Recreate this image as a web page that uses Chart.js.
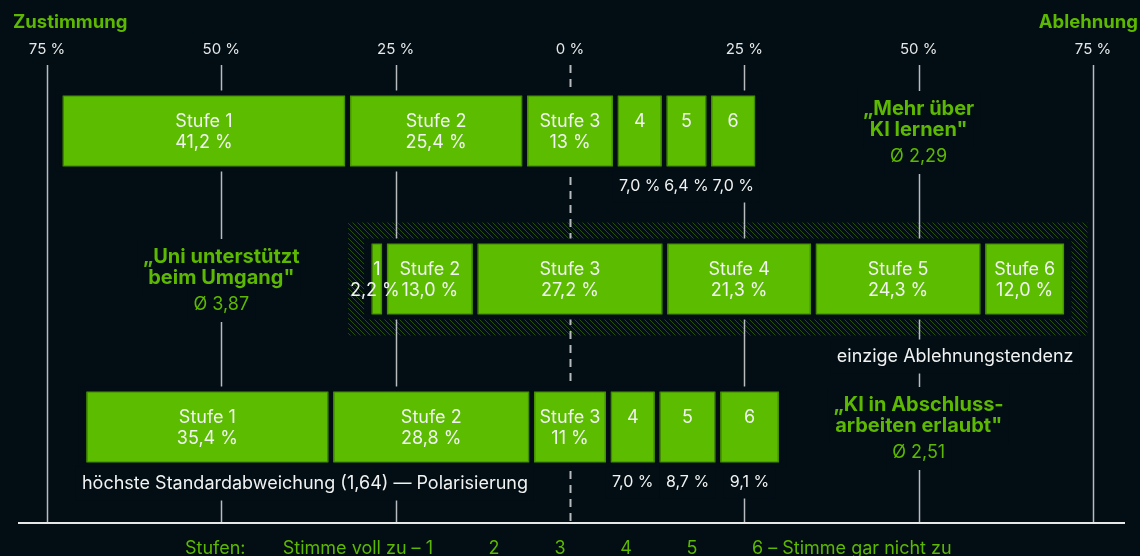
<!DOCTYPE html>
<html lang="de">
<head>
<meta charset="utf-8">
<title>KI im Studium – Zustimmung und Ablehnung</title>
<script src="https://cdn.jsdelivr.net/npm/chart.js@4.4.1/dist/chart.umd.min.js"></script>
<style>
  html, body { margin: 0; padding: 0; background: #020d14; }
  #wrap { width: 1140px; height: 556px; }
</style>
</head>
<body>
<div id="wrap"><canvas id="chart" width="1140" height="556"></canvas></div>
<script>
// Fragen (zweizeilig), Mittelwerte und Anteile je Stufe
const questions = [
    ['„Mehr über', 'KI lernen"'],
    ['„Uni unterstützt', 'beim Umgang"'],
    ['„KI in Abschluss-', 'arbeiten erlaubt"']
];
const means = ['2,29', '3,87', '2,51'];

// 1 = Stimme voll zu ... 6 = Stimme gar nicht zu (Prozent je Frage)
const stufe1 = ['41,2', '2,2', '35,4'];
const stufe2 = ['25,4', '13,0', '28,8'];
const stufe3 = ['13', '27,2', '11'];
const stufe4 = ['7,0', '21,3', '7,0'];
const stufe5 = ['6,4', '24,3', '8,7'];
const stufe6 = ['7,0', '12,0', '9,1'];

const tickValues = [-75, -50, -25, 0, 25, 50, 75];
const notes = ['', 'einzige Ablehnungstendenz', 'höchste Standardabweichung (1,64) — Polarisierung'];
const legendSteps = ['Stimme voll zu – 1', '2', '3', '4', '5', '6 – Stimme gar nicht zu'];

const BG = '#020d14';
const GREEN = '#5cbc00';
const GREEN_TEXT = '#5cb800';
const WHITE = '#f1f3f2';
const LINE = '#b8bcbf';
const FONT = 'Inter, "Noto Sans", sans-serif';
const BAR_H = 71;
const GAP = 2.75;

const toNum = s => parseFloat(s.replace(',', '.'));
const stages = [stufe1, stufe2, stufe3, stufe4, stufe5, stufe6];

// Stufe 3 liegt mittig auf der Nulllinie, 1–2 links davon, 4–6 rechts
const ranges = questions.map((q, r) => {
    const v = stages.map(s => toNum(s[r]));
    let pos = -(v[0] + v[1] + v[2] / 2);
    return v.map(val => {
        const seg = [pos, pos + val];
        pos += val;
        return seg;
    });
});

// Zeile mit Mittelwert über 3,5 = Ablehnungstendenz, wird schraffiert
const highlight = means.map(m => toNum(m) > 3.5);

function barBox(chart, r) {
    const x = chart.scales.x, y = chart.scales.y;
    const seg = ranges[r];
    const cy = y.getPixelForValue(r);
    return {
        left: x.getPixelForValue(seg[0][0]),
        right: x.getPixelForValue(seg[seg.length - 1][1]),
        top: cy - BAR_H / 2,
        bottom: cy + BAR_H / 2,
        cy: cy
    };
}

function textItems(chart) {
    const x = chart.scales.x;
    const items = [];
    const bold = 'bold 20px ' + FONT;
    const reg = '18px ' + FONT;
    const small = '16px ' + FONT;

    questions.forEach((lines, r) => {
        const b = barBox(chart, r);
        const qx = x.getPixelForValue(highlight[r] ? -50 : 50);
        items.push({ text: lines[0], x: qx, y: b.cy - 22, font: bold, size: 20, color: GREEN_TEXT, mask: true });
        items.push({ text: lines[1], x: qx, y: b.cy - 1, font: bold, size: 20, color: GREEN_TEXT, mask: true });
        items.push({ text: 'Ø ' + means[r], x: qx, y: b.cy + 26, font: reg, size: 18, color: GREEN_TEXT, mask: true });

        stages.forEach((s, k) => {
            const v = toNum(s[r]);
            const seg = ranges[r][k];
            const cx = x.getPixelForValue((seg[0] + seg[1]) / 2);
            const pct = s[r] + ' %';
            if (v >= 10) {
                items.push({ text: 'Stufe ' + (k + 1), x: cx, y: b.cy - 9, font: reg, size: 18, color: WHITE });
                items.push({ text: pct, x: cx, y: b.cy + 12, font: reg, size: 18, color: WHITE });
            } else {
                items.push({ text: String(k + 1), x: cx, y: b.cy - 9, font: reg, size: 18, color: WHITE });
                if (highlight[r]) {
                    items.push({ text: pct, x: cx - 2, y: b.cy + 12, font: reg, size: 18, color: WHITE });
                } else {
                    items.push({ text: pct, x: cx, y: b.bottom + 20, font: small, size: 16, color: WHITE, mask: true });
                }
            }
        });

        if (notes[r]) {
            if (highlight[r]) {
                items.push({ text: notes[r], x: b.right + 7, y: b.bottom + 42, align: 'right', font: reg, size: 18, color: WHITE, mask: true });
            } else {
                items.push({ text: notes[r], x: b.left - 2, y: b.bottom + 21, align: 'left', font: reg, size: 18, color: WHITE, mask: true });
            }
        }
    });
    return items;
}

// Diagonalschraffur, Abstand 5 px
function hatchPattern(ctx) {
    const c = document.createElement('canvas');
    c.width = 5; c.height = 5;
    const g = c.getContext('2d');
    g.fillStyle = 'rgba(92, 188, 0, 0.38)';
    for (let i = 0; i < 5; i++) g.fillRect(i, i, 1, 1);
    return ctx.createPattern(c, 'repeat');
}

const overlay = {
    id: 'overlay',
    beforeDatasetsDraw(chart) {
        const ctx = chart.ctx;
        const x = chart.scales.x;
        const area = chart.chartArea;
        ctx.save();

        // Schraffur um die Zeile mit Ablehnungstendenz
        questions.forEach((q, r) => {
            if (!highlight[r]) return;
            const b = barBox(chart, r);
            ctx.fillStyle = hatchPattern(ctx);
            ctx.fillRect(b.left - 21, b.top - 21, b.right - b.left + 42, BAR_H + 42);
        });

        // senkrechte Hilfslinien, 0 gestrichelt
        const y0 = area.top + 8, y1 = area.bottom + 21;
        tickValues.forEach(v => {
            const px = Math.round(x.getPixelForValue(v)) + 0.5;
            ctx.beginPath();
            ctx.strokeStyle = LINE;
            if (v === 0) {
                ctx.lineWidth = 2;
                ctx.setLineDash([8, 6]);
            } else {
                ctx.lineWidth = 1.5;
                ctx.setLineDash([]);
            }
            ctx.moveTo(px, y0);
            ctx.lineTo(px, y1);
            ctx.stroke();
        });
        ctx.setLineDash([]);

        // Grundlinie
        ctx.strokeStyle = '#e6e8e8';
        ctx.lineWidth = 2;
        ctx.beginPath();
        ctx.moveTo(18, y1 + 1);
        ctx.lineTo(chart.width - 15, y1 + 1);
        ctx.stroke();

        // Linien hinter Balken und Beschriftungen ausblenden
        ctx.fillStyle = BG;
        questions.forEach((q, r) => {
            const b = barBox(chart, r);
            ctx.fillRect(b.left - 5, b.top - 5, b.right - b.left + 10, BAR_H + 10);
        });
        textItems(chart).forEach(t => {
            if (!t.mask) return;
            ctx.font = t.font;
            const w = ctx.measureText(t.text).width;
            const left = t.align === 'left' ? t.x : t.align === 'right' ? t.x - w : t.x - w / 2;
            ctx.fillRect(left - 6, t.y - t.size / 2 - 8, w + 12, t.size + 16);
        });
        ctx.restore();
    },
    afterDatasetsDraw(chart) {
        const ctx = chart.ctx;
        ctx.save();

        // dunklere Kontur der Balken
        chart.data.datasets.forEach((ds, i) => {
            chart.getDatasetMeta(i).data.forEach(el => {
                const p = el.getProps(['x', 'base', 'y', 'height'], true);
                const l = Math.min(p.x, p.base) + GAP;
                const rr = Math.max(p.x, p.base) - GAP;
                ctx.strokeStyle = 'rgba(40, 90, 0, 0.55)';
                ctx.lineWidth = 1;
                ctx.strokeRect(l + 0.5, p.y - p.height / 2 + 0.5, rr - l - 1, p.height - 1);
            });
        });

        ctx.textBaseline = 'middle';
        textItems(chart).forEach(t => {
            ctx.font = t.font;
            ctx.fillStyle = t.color;
            ctx.textAlign = t.align || 'center';
            ctx.fillText(t.text, t.x, t.y);
        });

        // Überschriften links/rechts
        ctx.font = 'bold 18.5px ' + FONT;
        ctx.fillStyle = GREEN_TEXT;
        ctx.textAlign = 'left';
        ctx.fillText('Zustimmung', 13, 22);
        ctx.textAlign = 'right';
        ctx.fillText('Ablehnung', chart.width - 2, 22);

        // Stufen-Legende unten
        ctx.textBaseline = 'alphabetic';
        ctx.font = '18px ' + FONT;
        ctx.textAlign = 'left';
        ctx.fillText('Stufen:', 185, 554);
        legendSteps.forEach((s, i) => {
            const cx = 428 + 66 * i;
            if (i === 0) {
                ctx.textAlign = 'right';
                ctx.fillText(s, cx + 5, 554);
            } else if (i === legendSteps.length - 1) {
                ctx.textAlign = 'left';
                ctx.fillText(s, cx - 6, 554);
            } else {
                ctx.textAlign = 'center';
                ctx.fillText(s, cx, 554);
            }
        });
        ctx.restore();
    }
};

const datasets = stages.map((s, k) => ({
    label: 'Stufe ' + (k + 1),
    data: ranges.map(r => r[k]),
    backgroundColor: GREEN,
    borderColor: BG,
    borderWidth: { left: GAP, right: GAP, top: 0, bottom: 0 },
    borderSkipped: false,
    barThickness: BAR_H
}));

new Chart(document.getElementById('chart').getContext('2d'), {
    type: 'bar',
    data: {
        labels: questions.map(q => q.join(' ')),
        datasets: datasets
    },
    options: {
        indexAxis: 'y',
        responsive: false,
        animation: false,
        devicePixelRatio: 1,
        layout: { padding: { left: 47, right: 47, top: 42, bottom: 55 } },
        scales: {
            x: {
                type: 'linear',
                position: 'top',
                min: -75,
                max: 75,
                afterBuildTicks: axis => { axis.ticks = tickValues.map(v => ({ value: v })); },
                ticks: {
                    callback: v => Math.abs(v) + ' %',
                    color: '#e6e8e8',
                    padding: 0,
                    font: { family: FONT, size: 15, lineHeight: 1 }
                },
                grid: { display: false, drawTicks: false },
                border: { display: false }
            },
            y: {
                stacked: true,
                display: false
            }
        },
        plugins: {
            legend: { display: false },
            tooltip: { enabled: false }
        }
    },
    plugins: [overlay]
});
</script>
</body>
</html>
